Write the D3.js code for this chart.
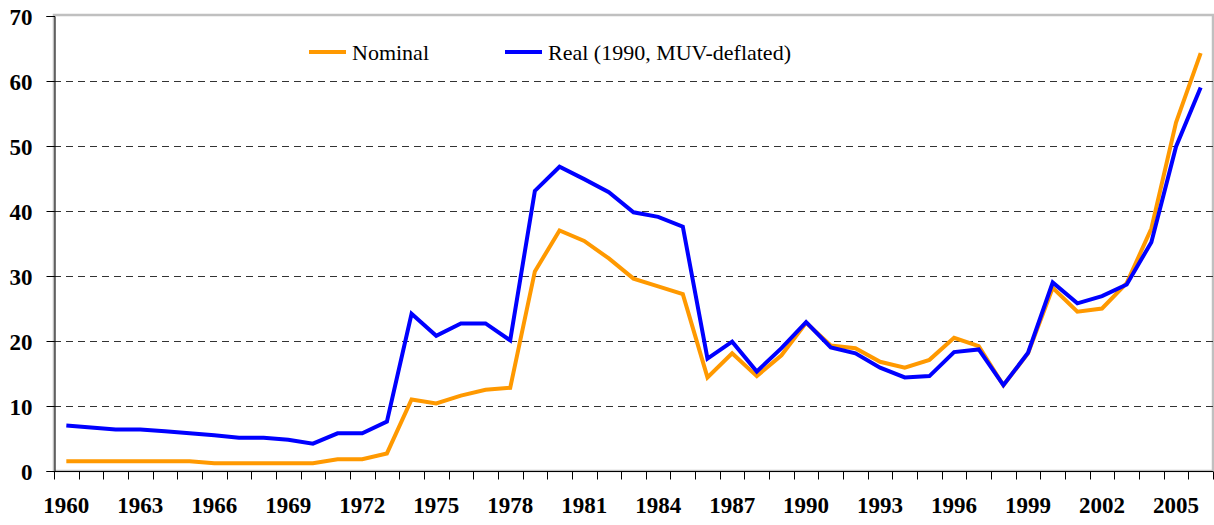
<!DOCTYPE html>
<meta charset="utf-8">
<style>
    body { margin: 0; background: #fff; }
    .tick text { font: bold 23px "Liberation Serif", "Times New Roman", serif; fill: #000; }
    .legend text { font: 22px "Liberation Serif", "Times New Roman", serif; fill: #000; }
</style>
<script src="https://d3js.org/d3.v7.min.js"></script>
<svg id="chart" width="1214" height="525"></svg>
<script>
var years = d3.range(1960, 2007);
var nominal = [1.5, 1.5, 1.5, 1.5, 1.5, 1.5, 1.2, 1.2, 1.2, 1.2,
               1.2, 1.8, 1.8, 2.7, 11.0, 10.4, 11.6, 12.5, 12.8, 30.7,
               37.0, 35.4, 32.7, 29.6, 28.4, 27.2, 14.4, 18.1, 14.6, 17.8,
               22.8, 19.3, 18.9, 16.8, 15.9, 17.1, 20.5, 19.2, 13.2, 18.1,
               28.2, 24.5, 25.0, 28.9, 37.3, 53.6, 64.3];
var real = [7.0, 6.7, 6.4, 6.4, 6.1, 5.8, 5.5, 5.1, 5.1, 4.8,
            4.2, 5.8, 5.8, 7.6, 24.2, 20.8, 22.7, 22.7, 20.1, 43.1,
            46.8, 44.9, 42.9, 39.8, 39.1, 37.6, 17.3, 19.9, 15.3, 18.9,
            22.9, 19.0, 18.1, 15.9, 14.4, 14.6, 18.3, 18.7, 13.2, 18.2,
            29.0, 25.8, 26.9, 28.7, 35.2, 49.9, 59.0];
var yTicks = [0, 10, 20, 30, 40, 50, 60, 70];
var seriesNames = ["Nominal", "Real (1990, MUV-deflated)"];
var colors = ["#FF9900", "#0000FF"];

var svg = d3.select("#chart");
var plotLeft = 54, plotRight = 1213, plotTop = 16, plotBottom = 471;

var x = d3.scaleBand().domain(years).range([plotLeft, plotRight]);
var y = d3.scaleLinear().domain([0, 70]).range([plotBottom, plotTop]);

// plot frame
svg.append("rect")
    .attr("x", plotLeft).attr("y", plotTop - 1)
    .attr("width", plotRight - plotLeft).attr("height", plotBottom - plotTop + 1)
    .attr("fill", "none").attr("stroke", "#c0c0c0").attr("stroke-width", 2.5);

// dashed gridlines
svg.append("g").selectAll("line")
    .data(yTicks.filter(function (d) { return d > 0 && d < 70; }))
    .enter().append("line")
    .attr("x1", plotLeft).attr("x2", plotRight)
    .attr("y1", function (d) { return Math.round(y(d)) + 0.5; })
    .attr("y2", function (d) { return Math.round(y(d)) + 0.5; })
    .attr("stroke", "#333").attr("stroke-dasharray", "7,5");

// y axis
var yAxis = svg.append("g")
    .attr("transform", "translate(" + (plotLeft + 0.5) + ",0)")
    .call(d3.axisLeft(y).tickValues(yTicks).tickSize(8).tickPadding(14));
yAxis.select(".domain").attr("stroke", "#000");
yAxis.selectAll(".tick line").attr("stroke", "#000");
yAxis.selectAll(".tick text").attr("dy", "0.35em");

// x axis: ticks at category boundaries, labels every 3 years
var xAxis = svg.append("g")
    .attr("transform", "translate(0," + (plotBottom + 0.5) + ")");
xAxis.append("line")
    .attr("x1", plotLeft).attr("x2", plotRight)
    .attr("stroke", "#000");
xAxis.selectAll(".bound")
    .data(years.concat([2007]))
    .enter().append("line")
    .attr("class", "bound")
    .attr("x1", function (d, i) { return Math.round(plotLeft + i * x.step()) + 0.5; })
    .attr("x2", function (d, i) { return Math.round(plotLeft + i * x.step()) + 0.5; })
    .attr("y1", 0).attr("y2", 8)
    .attr("stroke", "#000");
xAxis.selectAll(".tick")
    .data(years.filter(function (d) { return (d - 1960) % 3 === 0; }))
    .enter().append("g")
    .attr("class", "tick")
    .append("text")
    .attr("x", function (d) { return x(d) + x.bandwidth() / 2; })
    .attr("y", 41)
    .attr("text-anchor", "middle")
    .text(function (d) { return d; });

// lines
var line = d3.line()
    .x(function (d, i) { return x(years[i]) + x.bandwidth() / 2; })
    .y(function (d) { return y(d); });

[nominal, real].forEach(function (s, i) {
    svg.append("path")
        .datum(s)
        .attr("d", line)
        .attr("fill", "none")
        .attr("stroke", colors[i])
        .attr("stroke-width", 4)
        .attr("stroke-linejoin", "miter");
});

// legend
var legend = svg.append("g").attr("class", "legend");
var legendX = [309, 505];
seriesNames.forEach(function (name, i) {
    legend.append("line")
        .attr("x1", legendX[i]).attr("x2", legendX[i] + 37)
        .attr("y1", 52).attr("y2", 52)
        .attr("stroke", colors[i]).attr("stroke-width", 4);
    legend.append("text")
        .attr("x", legendX[i] + 43).attr("y", 60)
        .text(name);
});
</script>
